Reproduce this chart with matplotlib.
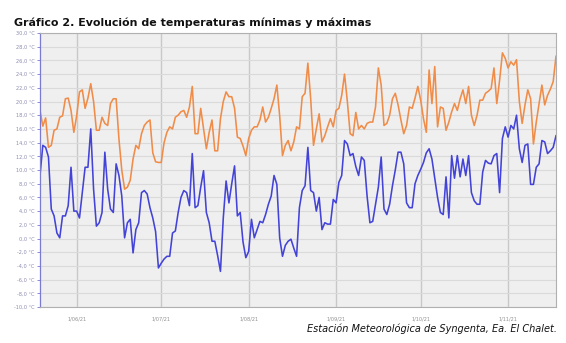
import matplotlib
matplotlib.use("Agg")
import matplotlib.pyplot as plt
import matplotlib.dates as mdates
import pandas as pd
import numpy as np

start_date = "2021-05-19"

t_max = [18.7, 16.4, 17.6, 13.3, 13.6, 15.8, 16.0, 17.7, 17.9, 20.4,
         20.5, 18.7, 15.5, 17.9, 21.4, 21.7, 19.0, 20.5, 22.6, 20.0,
         15.8, 15.8, 17.7, 16.8, 16.5, 19.7, 20.4, 20.4, 14.5, 10.0,
         7.2, 7.5, 8.5, 11.6, 13.6, 13.1, 15.3, 16.5, 17.0, 17.3,
         12.5, 11.2, 11.1, 11.1, 14.0, 15.5, 16.3, 16.0, 17.7, 18.0,
         18.5, 18.7, 17.7, 19.2, 22.2, 15.3, 15.3, 19.0, 16.0, 13.1,
         15.5, 17.3, 12.8, 12.8, 17.5, 20.0, 21.4, 20.7, 20.7, 19.0,
         14.8, 14.6, 13.5, 12.1, 14.6, 15.8, 16.3, 16.3, 17.3, 19.2,
         17.0, 17.7, 19.0, 20.4, 22.4, 17.9, 12.1, 13.6, 14.3, 12.8,
         14.1, 16.3, 16.0, 20.7, 21.2, 25.6, 20.4, 13.6, 16.0, 18.2,
         14.1, 15.0, 16.3, 17.5, 16.3, 18.7, 19.0, 20.9, 24.0, 20.0,
         15.3, 15.0, 18.4, 16.0, 16.5, 16.0, 16.8, 17.0, 17.0, 19.2,
         24.9, 22.4, 16.5, 16.8, 18.0, 20.4, 21.2, 19.5, 17.3, 15.3,
         16.5, 19.2, 19.0, 20.5, 22.2, 20.2, 17.5, 15.5, 24.6, 19.7,
         25.1, 16.3, 19.2, 19.0, 15.8, 17.0, 18.5, 19.7, 18.7, 20.4,
         21.7, 19.7, 22.2, 18.0, 16.5, 18.0, 20.2, 20.2, 21.2, 21.5,
         21.9, 24.9, 19.7, 23.1, 27.1, 26.3, 24.9, 25.8, 25.3, 26.1,
         20.0, 16.8, 19.5, 21.7, 20.4, 13.8, 17.0, 19.7, 22.4, 19.5,
         20.9, 21.8, 22.9, 26.6]

t_min = [9.2, 13.6, 13.3, 11.9, 4.3, 3.3, 0.8, 0.1, 3.3, 3.3,
         4.8, 10.4, 4.0, 4.0, 3.0, 6.7, 10.4, 10.4, 16.0, 7.2,
         1.8, 2.3, 3.8, 12.6, 7.2, 4.3, 3.8, 10.9, 9.2, 6.2,
         0.1, 2.3, 2.8, -2.1, 1.3, 2.3, 6.7, 7.0, 6.5, 4.5,
         3.0, 1.0, -4.3, -3.6, -3.0, -2.6, -2.6, 0.8, 1.1, 3.8,
         6.0, 7.0, 6.7, 4.8, 12.4, 4.5, 4.8, 7.5, 9.9, 3.8,
         2.3, -0.4, -0.4, -2.5, -4.8, 3.0, 8.4, 5.2, 8.0, 10.6,
         3.3, 3.8, -0.5, -2.8, -1.9, 2.8, 0.1, 1.3, 2.5, 2.3,
         3.5, 5.0, 6.2, 9.2, 7.9, 0.1, -2.6, -1.0, -0.4, -0.1,
         -1.4, -2.6, 4.5, 7.0, 7.7, 13.3, 7.0, 6.7, 4.0, 6.0,
         1.3, 2.3, 2.1, 2.1, 5.7, 5.2, 8.2, 9.2, 14.3, 13.8,
         12.1, 12.4, 10.5, 9.2, 11.9, 11.4, 6.2, 2.3, 2.5, 5.0,
         7.5, 11.9, 4.3, 3.5, 5.0, 7.7, 10.0, 12.6, 12.6, 10.9,
         5.2, 4.5, 4.5, 8.0, 9.2, 10.1, 11.1, 12.5, 13.1, 11.6,
         8.8, 6.0, 3.8, 3.5, 9.0, 3.0, 12.1, 8.8, 12.1, 9.0,
         11.6, 9.2, 12.1, 6.7, 5.5, 5.0, 5.0, 9.7, 11.4, 11.0,
         10.9, 12.1, 12.4, 6.7, 14.6, 16.3, 14.8, 16.5, 16.0, 18.0,
         13.1, 11.1, 13.6, 13.8, 7.9, 7.9, 10.4, 10.9, 14.3, 14.1,
         12.4, 12.8, 13.3, 15.0]

y_ticks = list(range(-10, 31, 2))
title = "Gráfico 2. Evolución de temperaturas mínimas y máximas"
source = "Estación Meteorológica de Syngenta, Ea. El Chalet."

dates = pd.date_range(start_date, periods=len(t_max), freq="D")

fig = plt.figure(figsize=(5.66, 3.43), dpi=100)
ax = fig.add_axes([40/566, 1-307/343, (556-40)/566, (307-33)/343])
ax.set_facecolor("#efefef")

ax.plot(dates, t_max, color="#f08c48", lw=1.15, solid_joinstyle="round")
ax.plot(dates, t_min, color="#4343d8", lw=1.15, solid_joinstyle="round")

ax.set_xlim(dates[0], dates[-1])
ax.set_ylim(-10, 30)
ax.set_yticks(y_ticks)
ax.set_yticklabels([f"{v:.1f}".replace(".", ",") + " °C" for v in y_ticks],
                   fontsize=3.6, color="#8a8ab0")
ax.xaxis.set_major_locator(mdates.MonthLocator(bymonthday=1))
ax.set_xticks(ax.get_xticks())
ticks_dt = [mdates.num2date(t) for t in ax.get_xticks()]
ax.set_xticklabels([f"{d.day}/{d.month:02d}/{d.year % 100}" for d in ticks_dt],
                   fontsize=3.6, color="#909090")

ax.grid(axis="y", color="#dadada", lw=0.8)
ax.grid(axis="x", color="#c8c8c8", lw=1.0)
ax.set_axisbelow(True)

for s in ["top", "right", "bottom"]:
    ax.spines[s].set_color("#b0b0b0")
    ax.spines[s].set_linewidth(0.8)
ax.spines["left"].set_color("#7a7ad0")
ax.spines["left"].set_linewidth(0.9)
ax.tick_params(axis="y", length=2.5, width=0.6, color="#7a7ad0", pad=1.5)
ax.tick_params(axis="x", length=0, pad=7)

fig.text(14/566, 1-26/343, title, fontsize=7.9, fontweight="bold",
         color="#111111", ha="left", va="baseline")
fig.text(557/566, 1-332/343, source, fontsize=7.0, style="italic",
         color="#111111", ha="right", va="baseline")

fig.savefig("out.png", dpi=100, facecolor="white")
